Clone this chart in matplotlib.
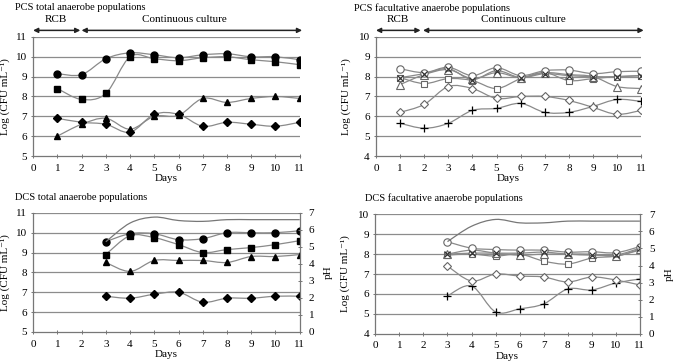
import numpy as np
import matplotlib
matplotlib.use("Agg")
import matplotlib.pyplot as plt
from matplotlib.path import Path
from matplotlib.patches import PathPatch

plt.rcParams['font.family'] = ['Liberation Serif', 'DejaVu Serif']

days_all = [1, 2, 3, 4, 5, 6, 7, 8, 9, 10, 11]
days_dcs = [3, 4, 5, 6, 7, 8, 9, 10, 11]

# PCS total anaerobe populations
pcs_tot_circle = [9.15, 9.1, 9.9, 10.2, 10.1, 9.95, 10.1, 10.15, 10.0, 10.0, 9.85]
pcs_tot_square = [8.4, 7.85, 8.15, 10.0, 9.9, 9.8, 9.95, 10.0, 9.85, 9.75, 9.6]
pcs_tot_triangle = [6.0, 6.6, 6.9, 6.35, 7.0, 7.05, 7.9, 7.7, 7.9, 8.0, 7.9]
pcs_tot_diamond = [6.9, 6.7, 6.6, 6.2, 7.1, 7.1, 6.5, 6.7, 6.6, 6.5, 6.7]

# PCS facultative anaerobe populations
pcs_fac_circle = [8.4, 8.2, 8.47, 8.05, 8.45, 8.05, 8.3, 8.33, 8.15, 8.25, 8.27]
pcs_fac_square = [7.95, 7.65, 7.9, 7.8, 7.4, 7.9, 8.2, 7.8, 7.9, 8.0, 8.05]
pcs_fac_triangle = [7.6, 8.1, 8.35, 7.9, 8.2, 7.95, 8.2, 8.1, 8.0, 7.5, 7.4]
pcs_fac_cross = [7.95, 8.15, 8.4, 7.85, 8.3, 7.95, 8.15, 8.05, 8.0, 8.0, 8.05]
pcs_fac_diamond = [6.2, 6.6, 7.5, 7.4, 6.9, 7.0, 7.0, 6.8, 6.45, 6.1, 6.3]
pcs_fac_plus = [5.65, 5.4, 5.65, 6.3, 6.4, 6.65, 6.2, 6.2, 6.5, 6.85, 6.75]

# DCS total anaerobe populations
dcs_tot_circle = [9.55, 9.95, 9.95, 9.65, 9.7, 10.0, 10.0, 10.0, 10.1]
dcs_tot_square = [8.9, 9.85, 9.75, 9.4, 9.0, 9.15, 9.25, 9.4, 9.6]
dcs_tot_triangle = [8.5, 8.05, 8.6, 8.6, 8.6, 8.5, 8.8, 8.8, 8.9]
dcs_tot_diamond = [6.8, 6.7, 6.9, 7.0, 6.5, 6.7, 6.7, 6.8, 6.8]
dcs_tot_ph = [5.3, 6.4, 6.75, 6.55, 6.5, 6.6, 6.6, 6.6, 6.6]

# DCS facultative anaerobe populations
dcs_fac_circle = [8.62, 8.3, 8.23, 8.2, 8.2, 8.1, 8.12, 8.07, 8.38]
dcs_fac_square = [7.95, 8.0, 7.9, 8.0, 7.65, 7.5, 7.8, 7.9, 8.2]
dcs_fac_triangle = [8.0, 8.2, 8.05, 7.95, 8.0, 8.0, 8.0, 7.9, 8.25]
dcs_fac_cross = [8.0, 8.05, 8.05, 8.05, 8.1, 8.0, 7.95, 7.95, 8.3]
dcs_fac_diamond = [7.4, 6.65, 7.0, 6.9, 6.85, 6.6, 6.85, 6.7, 6.45]
dcs_fac_plus = [5.9, 6.4, 5.1, 5.25, 5.5, 6.25, 6.2, 6.55, 6.75]
dcs_fac_ph = [5.4, 6.3, 6.7, 6.5, 6.5, 6.6, 6.6, 6.6, 6.6]

x_ticks = list(range(0, 12))

LINE_C = '#8a8a8a'
GRID_C = '#8c8c8c'


def smooth_path(x, y):
    n = len(x)
    verts = [(x[0], y[0])]
    codes = [Path.MOVETO]
    for i in range(n - 1):
        p0 = i - 1 if i > 0 else i
        p3 = i + 2 if i + 2 < n else i + 1
        c1 = (x[i] + (x[i + 1] - x[p0]) / 6.0, y[i] + (y[i + 1] - y[p0]) / 6.0)
        c2 = (x[i + 1] - (x[p3] - x[i]) / 6.0, y[i + 1] - (y[p3] - y[i]) / 6.0)
        verts += [c1, c2, (x[i + 1], y[i + 1])]
        codes += [Path.CURVE4] * 3
    return Path(verts, codes)


def series(ax, x, y, marker, filled=True, ms=5, color='black'):
    ax.add_patch(PathPatch(smooth_path(x, y), fill=False, edgecolor=LINE_C, lw=0.9, zorder=2))
    if marker == '+' or marker == 'x':
        ax.plot(x, y, ls='none', marker=marker, ms=ms, color=color, mew=0.9, zorder=3)
    elif filled:
        ax.plot(x, y, ls='none', marker=marker, ms=ms, mfc='black', mec='black', zorder=3)
    else:
        ax.plot(x, y, ls='none', marker=marker, ms=ms, mfc='white', mec='#666666', mew=0.8, zorder=3)


def style(ax, ylo, yhi, ylab_x):
    ax.set_xlim(0, 11)
    ax.set_ylim(ylo, yhi)
    ax.set_xticks(x_ticks)
    ax.set_yticks(range(ylo, yhi + 1))
    for v in range(ylo + 1, yhi + 1):
        ax.axhline(v, color=GRID_C, lw=0.9, zorder=1)
    for s in ['top', 'right']:
        ax.spines[s].set_visible(False)
    for s in ['left', 'bottom']:
        ax.spines[s].set_color('#777777')
        ax.spines[s].set_linewidth(0.9)
    ax.tick_params(labelsize=8, length=3, width=0.7, color='#777777', direction='inout')
    ax.tick_params(axis='x', pad=4)
    ax.tick_params(axis='y', pad=3)
    ax.set_xlabel('Days', fontsize=8, labelpad=1)
    ax.set_ylabel('Log (CFU mL⁻¹)', fontsize=8)
    ax.yaxis.set_label_coords(ylab_x, 0.5)


def arrows(ax, rcb_end, cont_start, cont_end, rcb_txt_x, cont_txt_x):
    kw = dict(xycoords=('data', 'axes fraction'), textcoords=('data', 'axes fraction'),
              annotation_clip=False,
              arrowprops=dict(arrowstyle='<|-|>', color='#222222', lw=1.1, mutation_scale=7,
                              shrinkA=0, shrinkB=0))
    ax.annotate('', xy=(0, 1.055), xytext=(rcb_end, 1.055), **kw)
    ax.annotate('', xy=(cont_start, 1.055), xytext=(cont_end, 1.055), **kw)
    ax.text(rcb_txt_x, 1.11, 'RCB', transform=ax.get_xaxis_transform(), ha='center',
            va='bottom', fontsize=8, clip_on=False)
    ax.text(cont_txt_x, 1.11, 'Continuous culture', transform=ax.get_xaxis_transform(),
            ha='center', va='bottom', fontsize=8, clip_on=False)


def ph_axis(ax, x, ph):
    ax2 = ax.twinx()
    ax2.set_ylim(0, 7)
    ax2.set_yticks(range(0, 8))
    for s in ['top', 'left', 'bottom']:
        ax2.spines[s].set_visible(False)
    ax2.spines['right'].set_color('#777777')
    ax2.spines['right'].set_linewidth(0.9)
    ax2.tick_params(labelsize=8, length=3, width=0.7, color='#777777', pad=5, direction='inout')
    ax2.set_ylabel('pH', fontsize=8, labelpad=7)
    ax2.add_patch(PathPatch(smooth_path(x, ph), fill=False, edgecolor='#777777', lw=0.9, zorder=2))
    return ax2


fig = plt.figure(figsize=(6.75, 3.62), dpi=100)

# Top-left
ax1 = fig.add_axes([0.049, 0.569, 0.395, 0.329])
style(ax1, 5, 11, -0.088)
series(ax1, days_all, pcs_tot_square, 's', ms=3.8)
series(ax1, days_all, pcs_tot_circle, 'o', ms=5)
series(ax1, days_all, pcs_tot_triangle, '^', ms=5)
series(ax1, days_all, pcs_tot_diamond, 'D', ms=3.8)
arrows(ax1, 1.95, 2.0, 11.1, 0.95, 6.25)
fig.text(0.022, 0.978, 'PCS total anaerobe populations', fontsize=7.5, va='center')

# Top-right
ax2 = fig.add_axes([0.557, 0.569, 0.393, 0.329])
style(ax2, 4, 10, -0.095)
series(ax2, days_all, pcs_fac_plus, '+', ms=6)
series(ax2, days_all, pcs_fac_diamond, 'D', filled=False, ms=4.3)
series(ax2, days_all, pcs_fac_square, 's', filled=False, ms=4.8)
series(ax2, days_all, pcs_fac_triangle, '^', filled=False, ms=5.3)
series(ax2, days_all, pcs_fac_circle, 'o', filled=False, ms=5.3)
series(ax2, days_all, pcs_fac_cross, 'x', ms=4.3, color='#333333')
arrows(ax2, 1.85, 1.95, 11.1, 0.9, 6.1)
fig.text(0.524, 0.978, 'PCS facultative anaerobe populations', fontsize=7.5, va='center')

# Bottom-left
ax3 = fig.add_axes([0.049, 0.083, 0.395, 0.329])
style(ax3, 5, 11, -0.088)
ax3b = ph_axis(ax3, days_dcs, dcs_tot_ph)
series(ax3, days_dcs, dcs_tot_square, 's', ms=3.8)
series(ax3, days_dcs, dcs_tot_circle, 'o', ms=5)
series(ax3, days_dcs, dcs_tot_triangle, '^', ms=5)
series(ax3, days_dcs, dcs_tot_diamond, 'D', ms=3.8)
fig.text(0.022, 0.454, 'DCS total anaerobe populations', fontsize=7.5, va='center')

# Bottom-right
ax4 = fig.add_axes([0.556, 0.078, 0.392, 0.330])
style(ax4, 4, 10, -0.095)
ax4b = ph_axis(ax4, days_dcs, dcs_fac_ph)
series(ax4, days_dcs, dcs_fac_plus, '+', ms=6)
series(ax4, days_dcs, dcs_fac_diamond, 'D', filled=False, ms=4.3)
series(ax4, days_dcs, dcs_fac_square, 's', filled=False, ms=4.8)
series(ax4, days_dcs, dcs_fac_triangle, '^', filled=False, ms=5.3)
series(ax4, days_dcs, dcs_fac_circle, 'o', filled=False, ms=5.3)
series(ax4, days_dcs, dcs_fac_cross, 'x', ms=4.3, color='#333333')
fig.text(0.541, 0.454, 'DCS facultative anaerobe populations', fontsize=7.5, va='center')

fig.savefig('out.png', dpi=100)
